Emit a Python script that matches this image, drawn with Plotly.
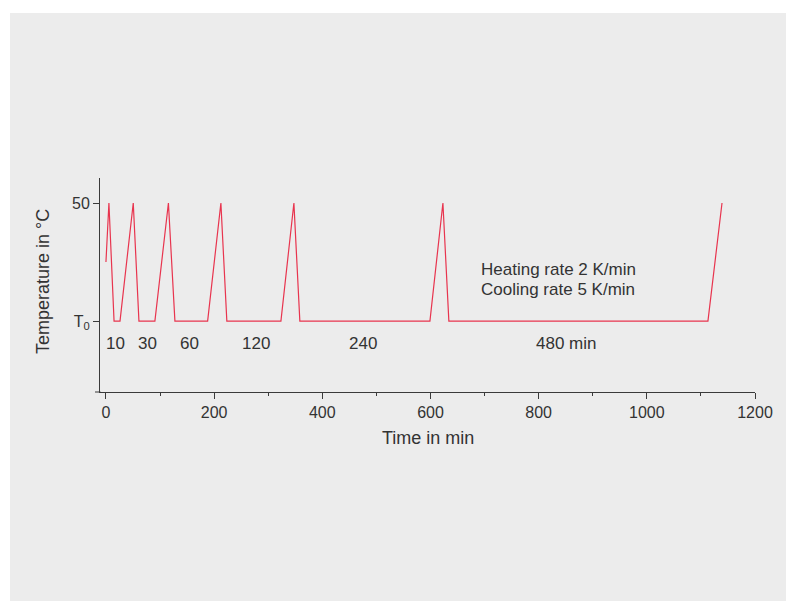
import plotly.graph_objects as go

# Temperature program: heating/cooling cycles with increasing dwell times at T0
time_min = [0, 5.5, 15, 26, 50.5, 61, 90.5, 115.5, 127.5, 188, 212.5, 223.5,
            323.5, 347.5, 358.5, 599, 623, 634, 1113, 1139]
temp_c = [25, 50, 0, 0, 50, 0, 0, 50, 0, 0, 50, 0, 0, 50, 0, 0, 50, 0, 0, 50]

# Dwell-time labels under the T0 plateaus
dwell_labels = ["10", "30", "60", "120", "240", "480 min"]
dwell_x = [18.5, 77.5, 155, 277, 475, 851]
dwell_y = -9.5

rate_lines = ["Heating rate 2 K/min", "Cooling rate 5 K/min"]
rate_x = 689
rate_y = [22, 13.5]

y_tickvals = [0, 50]
y_ticktext = ["T<sub>0</sub>", "50"]
x_tickvals = [0, 200, 400, 600, 800, 1000, 1200]

FONT = "Arial, Liberation Sans, sans-serif"
TXT = "#333333"
AX = "#3a3a3a"

fig = go.Figure()
fig.add_trace(go.Scatter(
    x=time_min, y=temp_c, mode="lines",
    line=dict(color="#e8344e", width=1.2),
    hoverinfo="skip", showlegend=False,
))

annotations = []
for lab, xv in zip(dwell_labels, dwell_x):
    annotations.append(dict(x=xv, y=dwell_y, xref="x", yref="y", text=lab,
                            showarrow=False, xanchor="center", yanchor="middle",
                            font=dict(family=FONT, size=17, color=TXT)))
for line, yv in zip(rate_lines, rate_y):
    annotations.append(dict(x=rate_x, y=yv, xref="x", yref="y", text=line,
                            showarrow=False, xanchor="left", yanchor="middle",
                            font=dict(family=FONT, size=17, color=TXT)))

# Plot area geometry (pixels) used for paper-coordinate placement
W, H = 786, 601
L, R, T, B = 100, 755, 178, 392
pw, ph = R - L, B - T

def px_x(p):
    return (p - L) / pw

def px_y(p):
    return (B - p) / ph

annotations.append(dict(x=px_x(428), y=px_y(438), xref="paper", yref="paper",
                        text="Time in min", showarrow=False,
                        xanchor="center", yanchor="middle",
                        font=dict(family=FONT, size=18, color=TXT)))
annotations.append(dict(x=px_x(43), y=px_y(282), xref="paper", yref="paper",
                        text="Temperature in °C", showarrow=False, textangle=-90,
                        xanchor="center", yanchor="middle",
                        font=dict(family=FONT, size=18, color=TXT)))

shapes = [
    # grey panel behind the chart
    dict(type="rect", xref="paper", yref="paper", layer="below",
         x0=px_x(10), x1=px_x(790), y0=px_y(13), y1=px_y(605),
         fillcolor="#ececec", line=dict(width=0)),
    # x-axis line extending slightly past the y-axis
    dict(type="line", xref="paper", yref="paper",
         x0=px_x(95), x1=px_x(100.5), y0=0, y1=0,
         line=dict(color=AX, width=1)),
]

fig.update_layout(
    width=W, height=H,
    margin=dict(l=L, r=W - R, t=T, b=H - B, pad=0),
    paper_bgcolor="white",
    plot_bgcolor="rgba(0,0,0,0)",
    annotations=annotations,
    shapes=shapes,
    font=dict(family=FONT, size=16, color=TXT),
    xaxis=dict(range=[-11, 1200], tickvals=x_tickvals, ticks="outside",
               ticklen=6, tickcolor=AX, showline=True, linecolor=AX, linewidth=1,
               showgrid=False, zeroline=False,
               tickfont=dict(family=FONT, size=16, color=TXT),
               minor=dict(tickvals=[100, 300, 500, 700, 900, 1100],
                          ticks="outside", ticklen=3, tickcolor=AX)),
    yaxis=dict(range=[-30, 60.6], tickvals=y_tickvals, ticktext=y_ticktext,
               ticks="outside", ticklen=6, tickcolor=AX, showline=True,
               linecolor=AX, linewidth=1, showgrid=False, zeroline=False,
               tickfont=dict(family=FONT, size=16, color=TXT)),
)

fig.write_html("out.html")
